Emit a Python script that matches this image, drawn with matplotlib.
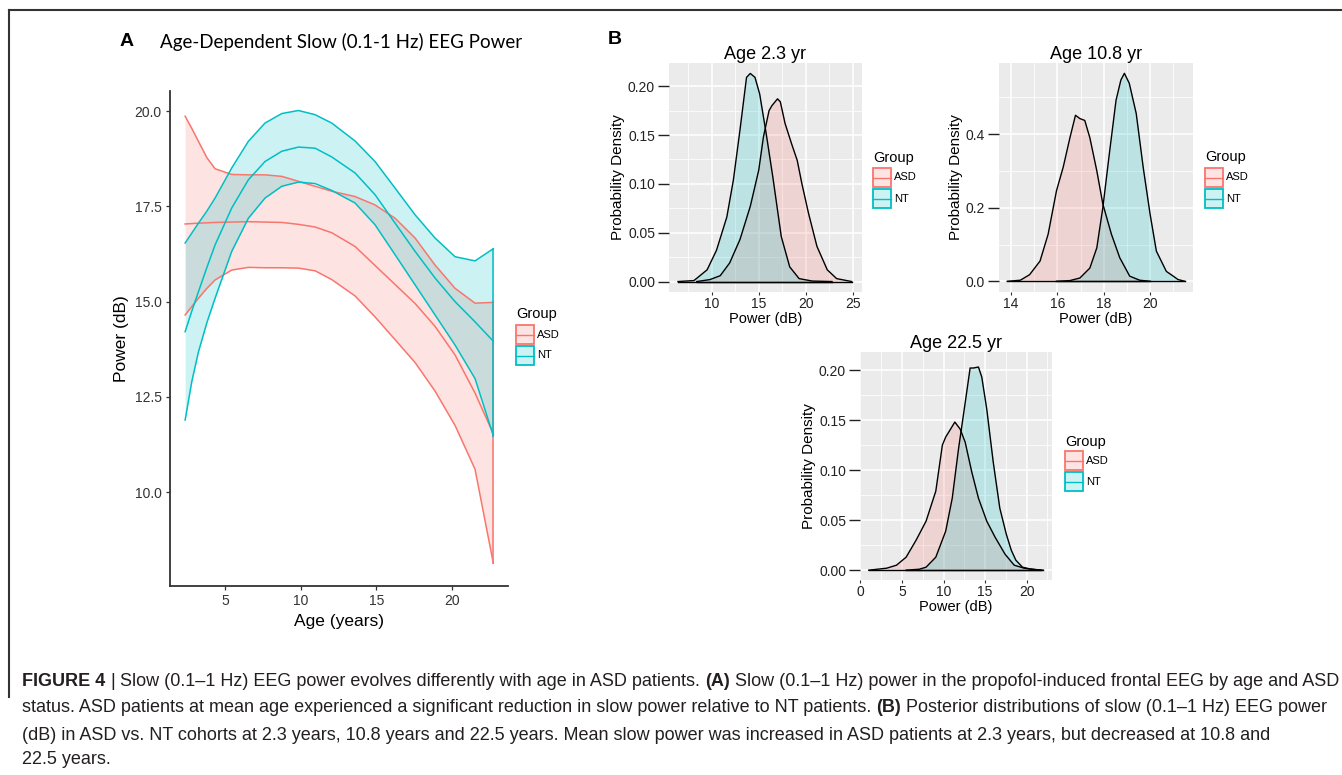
import matplotlib
matplotlib.use('Agg')
import matplotlib.pyplot as plt
from matplotlib import font_manager
from matplotlib.patches import Rectangle
from matplotlib.lines import Line2D
from matplotlib.colors import to_rgba

# ---------------- DATA ----------------
# Panel A: smoothed fit of slow power vs age (mean and 95% band)
age = [2.36, 2.8, 3.24, 3.8, 4.34, 5.44, 6.54, 7.64, 8.75, 9.85, 10.95, 12.05,
       13.59, 14.91, 16.24, 17.56, 18.88, 20.2, 21.52, 22.73]
asd_hi = [19.87, 19.55, 19.21, 18.78, 18.49, 18.34, 18.33, 18.33, 18.29, 18.16, 18.03, 17.90,
          17.76, 17.54, 17.19, 16.67, 15.96, 15.35, 14.96, 14.98]
asd_mean = [17.04, 17.05, 17.06, 17.07, 17.08, 17.09, 17.10, 17.09, 17.08, 17.03, 16.96, 16.81,
            16.45, 15.95, 15.45, 14.95, 14.35, 13.60, 12.60, 11.53]
asd_lo = [14.65, 14.87, 15.09, 15.35, 15.57, 15.83, 15.90, 15.89, 15.89, 15.88, 15.81, 15.58,
          15.15, 14.60, 14.00, 13.40, 12.65, 11.75, 10.60, 8.13]
nt_hi = [16.54, 16.80, 17.06, 17.38, 17.72, 18.51, 19.21, 19.69, 19.94, 20.02, 19.91, 19.69,
         19.22, 18.68, 17.98, 17.28, 16.67, 16.18, 16.07, 16.39]
nt_mean = [14.21, 14.75, 15.26, 15.90, 16.49, 17.46, 18.20, 18.68, 18.95, 19.06, 19.03, 18.80,
           18.38, 17.81, 17.06, 16.32, 15.62, 15.00, 14.47, 13.96]
nt_lo = [11.89, 12.90, 13.68, 14.45, 15.09, 16.32, 17.19, 17.72, 18.03, 18.14, 18.10, 17.92,
         17.59, 17.02, 16.23, 15.44, 14.65, 13.86, 12.98, 11.48]
a_xticks = [5, 10, 15, 20]
a_yticks = [10.0, 12.5, 15.0, 17.5, 20.0]

# Panel B: posterior densities
d23_asd_x = [8.4, 9.8, 10.9, 11.9, 13.0, 14.1, 15.0, 15.5, 16.1, 16.4, 17.0, 17.3,
             17.8, 18.5, 19.1, 19.6, 20.3, 21.2, 22.3, 23.3, 24.9]
d23_asd_y = [0.0, 0.002, 0.006, 0.019, 0.043, 0.077, 0.114, 0.148, 0.175, 0.180, 0.187,
             0.184, 0.162, 0.141, 0.124, 0.100, 0.070, 0.036, 0.012, 0.003, 0.0]
d23_nt_x = [6.4, 8.1, 9.5, 10.5, 11.6, 12.3, 13.0, 13.7, 14.1, 14.6, 15.1, 15.8,
            16.5, 17.4, 18.3, 19.3, 20.7, 22.8]
d23_nt_y = [0.0, 0.001, 0.012, 0.032, 0.066, 0.104, 0.155, 0.209, 0.213, 0.209, 0.192,
            0.151, 0.107, 0.046, 0.015, 0.003, 0.0005, 0.0]
d108_asd_x = [13.84, 14.4, 14.8, 15.25, 15.6, 15.96, 16.25, 16.54, 16.78, 16.97, 17.18,
              17.4, 17.7, 17.96, 18.33, 18.69, 19.12, 19.55, 20.0]
d108_asd_y = [0.0, 0.003, 0.018, 0.055, 0.128, 0.246, 0.31, 0.39, 0.451, 0.442, 0.437,
              0.39, 0.30, 0.21, 0.128, 0.064, 0.014, 0.003, 0.0]
d108_nt_x = [15.96, 16.54, 16.97, 17.4, 17.7, 17.96, 18.24, 18.53, 18.74, 18.89, 19.1,
             19.4, 19.7, 20.0, 20.27, 20.7, 21.0, 21.2, 21.5]
d108_nt_y = [0.0, 0.002, 0.009, 0.036, 0.091, 0.20, 0.346, 0.492, 0.547, 0.565, 0.538,
             0.456, 0.31, 0.182, 0.082, 0.027, 0.014, 0.005, 0.0]
d225_asd_x = [1.0, 3.16, 4.34, 5.5, 6.7, 7.9, 9.07, 9.86, 10.26, 10.85, 11.36, 12.0,
              12.6, 13.4, 14.2, 15.2, 16.2, 17.4, 18.5, 19.7, 21.7]
d225_asd_y = [0.0, 0.002, 0.005, 0.013, 0.030, 0.049, 0.079, 0.125, 0.133, 0.141, 0.148,
              0.141, 0.128, 0.098, 0.072, 0.049, 0.033, 0.016, 0.005, 0.002, 0.0]
d225_nt_x = [5.5, 7.1, 7.9, 9.07, 10.26, 11.05, 11.8, 12.6, 13.2, 13.6, 14.2, 14.6,
             15.2, 15.98, 16.77, 17.55, 18.15, 18.7, 19.5, 20.5, 22.0]
d225_nt_y = [0.0, 0.001, 0.003, 0.013, 0.039, 0.072, 0.121, 0.167, 0.202, 0.202, 0.203,
             0.193, 0.161, 0.108, 0.062, 0.036, 0.020, 0.010, 0.003, 0.001, 0.0]

groups = ['ASD', 'NT']
caption_lines = [
    [("FIGURE 4", True), ("|", False),
     ("Slow (0.1–1 Hz) EEG power evolves differently with age in ASD patients.", False),
     ("(A)", True),
     ("Slow (0.1–1 Hz) power in the propofol-induced frontal EEG by age and ASD", False)],
    [("status. ASD patients at mean age experienced a significant reduction in slow power relative to NT patients.", False),
     ("(B)", True), ("Posterior distributions of slow (0.1–1 Hz) EEG power", False)],
    [("(dB) in ASD vs. NT cohorts at 2.3 years, 10.8 years and 22.5 years. Mean slow power was increased in ASD patients at 2.3 years, but decreased at 10.8 and", False)],
    [("22.5 years.", False)],
]

# ---------------- STYLE ----------------
W, H = 1342, 775
RED = '#F8766D'
CYAN = '#00BFC4'
names = {f.name for f in font_manager.fontManager.ttflist}
SANS = 'Liberation Sans' if 'Liberation Sans' in names else 'DejaVu Sans'
NARROW = 'Liberation Sans Narrow' if 'Liberation Sans Narrow' in names else SANS
TITLEF = 'Lato' if 'Lato' in names else SANS
plt.rcParams['font.family'] = [SANS, 'DejaVu Sans']

fig = plt.figure(figsize=(W / 100, H / 100), dpi=100)
renderer = fig.canvas.get_renderer()


def fx(x):
    return x / W


def fy(y):
    return 1 - y / H


def axes_px(l, t, r, b):
    return fig.add_axes([fx(l), fy(b), fx(r) - fx(l), fy(t) - fy(b)])


# frame lines
fig.add_artist(Line2D([fx(9), 1.0], [fy(10), fy(10)], transform=fig.transFigure,
                      color='#333333', lw=1.5))
fig.add_artist(Line2D([fx(9), fx(9)], [fy(10), fy(697)], transform=fig.transFigure,
                      color='#333333', lw=1.5))

# ---------------- PANEL A ----------------
axA = axes_px(170, 90.7, 508, 585.7)
axA.fill_between(age, asd_lo, asd_hi, color=RED, alpha=0.2, lw=0)
for s in (asd_hi, asd_mean, asd_lo):
    axA.plot(age, s, color=RED, lw=1.1)
axA.plot([age[-1], age[-1]], [asd_lo[-1], asd_hi[-1]], color=RED, lw=1.1)
axA.fill_between(age, nt_lo, nt_hi, color=CYAN, alpha=0.2, lw=0)
for s in (nt_hi, nt_mean, nt_lo):
    axA.plot(age, s, color=CYAN, lw=1.1)
axA.plot([age[-1], age[-1]], [nt_lo[-1], nt_hi[-1]], color=CYAN, lw=1.1)
axA.set_xlim(1.36, 23.7)
axA.set_ylim(7.54, 20.54)
axA.set_xticks(a_xticks)
axA.set_yticks(a_yticks)
axA.set_yticklabels([f'{v:.1f}' for v in a_yticks])
for sp in ('top', 'right'):
    axA.spines[sp].set_visible(False)
for sp in ('left', 'bottom'):
    axA.spines[sp].set_color('#333333')
    axA.spines[sp].set_linewidth(1.3)
axA.tick_params(length=3, width=0.9, color='#333333', labelsize=10,
                labelcolor='#333333', pad=3)
axA.set_xlabel('Age (years)', fontsize=12.5, labelpad=4)
axA.set_ylabel('Power (dB)', fontsize=12.5, labelpad=4)

fig.text(fx(120), fy(42), 'A', fontsize=14, fontweight='bold', va='center')
fig.text(fx(160), fy(42), 'Age-Dependent Slow (0.1-1 Hz) EEG Power', fontsize=13.5,
         va='center', family=[TITLEF, 'DejaVu Sans'])
fig.text(fx(608), fy(40), 'B', fontsize=14, fontweight='bold', va='center')


def legend(x, ytitle, ykey):
    fig.text(fx(x), fy(ytitle), 'Group', fontsize=10.5, va='center', ha='left')
    for i, (lab, c) in enumerate(zip(groups, [RED, CYAN])):
        top = ykey + i * 21
        fig.add_artist(Rectangle((fx(x), fy(top + 19)), 18 / W, 19 / H,
                                 transform=fig.transFigure,
                                 facecolor=to_rgba(c, 0.2), edgecolor=c, lw=1.3))
        fig.add_artist(Line2D([fx(x), fx(x + 18)], [fy(top + 9.5)] * 2,
                              transform=fig.transFigure, color=c, lw=1.0))
        fig.text(fx(x + 21), fy(top + 9.5), lab, fontsize=8, va='center')


legend(516, 314, 325)


# ---------------- PANEL B ----------------
def density_panel(box, title, asd_x, asd_y, nt_x, nt_y, xlim, ylim, xt, yt,
                  xminor, yminor, yfmt):
    ax = axes_px(*box)
    ax.set_facecolor('#EBEBEB')
    ax.set_axisbelow(True)
    ax.fill_between(asd_x, asd_y, color=RED, alpha=0.2, lw=0)
    ax.plot(asd_x, asd_y, color='black', lw=1.0)
    ax.plot([asd_x[0], asd_x[-1]], [0, 0], color='black', lw=1.0)
    ax.fill_between(nt_x, nt_y, color=CYAN, alpha=0.2, lw=0)
    ax.plot(nt_x, nt_y, color='black', lw=1.0)
    ax.plot([nt_x[0], nt_x[-1]], [0, 0], color='black', lw=1.0)
    ax.set_xlim(*xlim)
    ax.set_ylim(*ylim)
    ax.set_xticks(xt)
    ax.set_yticks(yt)
    ax.set_yticklabels([yfmt.format(v) for v in yt])
    ax.set_xticks(xminor, minor=True)
    ax.set_yticks(yminor, minor=True)
    ax.grid(which='major', color='white', lw=1.1)
    ax.grid(which='minor', color='white', lw=0.55)
    for sp in ax.spines.values():
        sp.set_visible(False)
    ax.tick_params(which='minor', length=0)
    ax.tick_params(axis='y', length=8, width=1.0, color='#222222', labelsize=10,
                   labelcolor='#222222', pad=2)
    ax.tick_params(axis='x', length=2, width=0.8, color='#333333', labelsize=10,
                   labelcolor='#222222', pad=1.5)
    ax.set_title(title, fontsize=13, pad=3)
    ax.set_xlabel('Power (dB)', fontsize=10.5, labelpad=0.5)
    ax.set_ylabel('Probability Density', fontsize=11, labelpad=2)
    return ax


density_panel((669, 63, 862, 292), 'Age 2.3 yr', d23_asd_x, d23_asd_y, d23_nt_x, d23_nt_y,
              (5.44, 26.0), (-0.0107, 0.2237), [10, 15, 20, 25],
              [0, 0.05, 0.10, 0.15, 0.20], [7.5, 12.5, 17.5, 22.5],
              [0.025, 0.075, 0.125, 0.175], '{:.2f}')
legend(873, 158, 168)

density_panel((999, 63, 1193, 292), 'Age 10.8 yr', d108_asd_x, d108_asd_y, d108_nt_x, d108_nt_y,
              (13.48, 21.85), (-0.029, 0.593), [14, 16, 18, 20],
              [0.0, 0.2, 0.4], [15, 17, 19, 21], [0.1, 0.3, 0.5], '{:.1f}')
legend(1205, 157, 168)

density_panel((860, 352, 1052, 580), 'Age 22.5 yr', d225_asd_x, d225_asd_y, d225_nt_x, d225_nt_y,
              (-0.05, 23.05), (-0.0098, 0.218), [0, 5, 10, 15, 20],
              [0, 0.05, 0.10, 0.15, 0.20], [2.5, 7.5, 12.5, 17.5, 22.5],
              [0.025, 0.075, 0.125, 0.175], '{:.2f}')
legend(1065, 442, 451)


# ---------------- CAPTION ----------------
def measure(s, size, bold):
    t = fig.text(0, 0, s, fontsize=size, fontweight='bold' if bold else 'normal',
                 family=[NARROW, 'DejaVu Sans'])
    w = t.get_window_extent(renderer).width
    t.remove()
    return w


def runs_width(runs, size):
    sp = measure('a a', size, False) - measure('aa', size, False)
    return sum(measure(s, size, b) for s, b in runs) + sp * (len(runs) - 1)


base = 10.0
size = base * 1315 / runs_width(caption_lines[0], base)

ys = [679, 706, 733, 758]
for runs, yc in zip(caption_lines, ys):
    sp = measure('a a', size, False) - measure('aa', size, False)
    x = 22
    for s, b in runs:
        fig.text(fx(x), fy(yc), s, fontsize=size, fontweight='bold' if b else 'normal',
                 family=[NARROW, 'DejaVu Sans'], va='center_baseline', color='#231F20')
        x += measure(s, size, b) + sp

fig.savefig('out.png', dpi=100)
